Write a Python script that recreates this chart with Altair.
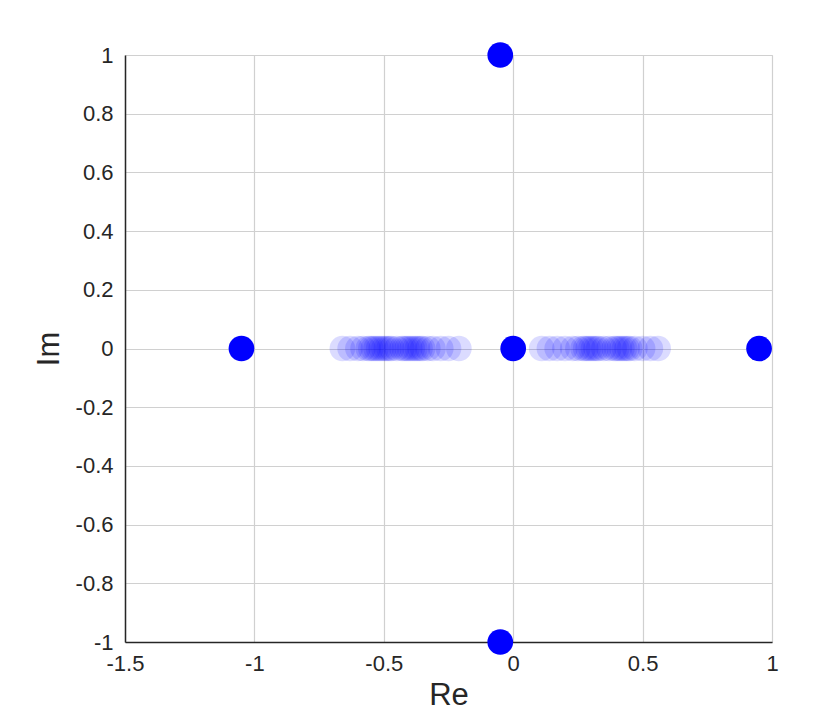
import altair as alt
import pandas as pd

# Solid (opaque) poles
solid_re = [-0.05, -0.05, -1.05, 0.0, 0.95]
solid_im = [1.0, -1.0, 0.0, 0.0, 0.0]

# Faint (transparent) points along the real axis
faint_re = [-0.66, -0.63, -0.60, -0.58, -0.56, -0.55, -0.54, -0.53, -0.52, -0.51,
            -0.50, -0.49, -0.48, -0.47, -0.45, -0.43, -0.42, -0.41, -0.40, -0.39,
            -0.38, -0.37, -0.36, -0.35, -0.33, -0.31, -0.28, -0.25, -0.21,
            0.11, 0.14, 0.17, 0.20, 0.23, 0.25, 0.27, 0.28, 0.29, 0.30, 0.31,
            0.32, 0.33, 0.35, 0.37, 0.39, 0.40, 0.41, 0.42, 0.43, 0.44, 0.45,
            0.47, 0.50, 0.53, 0.56]
faint_im = [0.0] * len(faint_re)

x_ticks = [-1.5, -1, -0.5, 0, 0.5, 1]
y_ticks = [-1, -0.8, -0.6, -0.4, -0.2, 0, 0.2, 0.4, 0.6, 0.8, 1]

solid = pd.DataFrame({"Re": solid_re, "Im": solid_im})
faint = pd.DataFrame({"Re": faint_re, "Im": faint_im})

FONT = "Liberation Sans"
LABEL = "datum.value < 0 ? '-' + format(-datum.value, '~g') : format(datum.value, '~g')"

common = dict(grid=True, ticks=False, labelExpr=LABEL,
              labelFontSize=22, titleFontSize=31, labelFont=FONT, titleFont=FONT,
              titleFontWeight="normal", labelColor="#262626", titleColor="#262626",
              domainColor="#262626", domainWidth=1.5, gridColor="#d0d0d0",
              gridWidth=1.2, labelFlush=False)

xenc = alt.X("Re:Q", title="Re",
             scale=alt.Scale(domain=[-1.5, 1], nice=False, zero=False),
             axis=alt.Axis(values=x_ticks, labelPadding=11, titlePadding=6, **common))
yenc = alt.Y("Im:Q", title="Im",
             scale=alt.Scale(domain=[-1, 1], nice=False, zero=False),
             axis=alt.Axis(values=y_ticks, labelPadding=12, titlePadding=10, **common))

faint_layer = alt.Chart(faint).mark_circle(size=660, color="#0000ff", opacity=0.14).encode(
    x=xenc, y=yenc)
solid_layer = alt.Chart(solid).mark_circle(size=660, color="#0000ff", opacity=1).encode(
    x="Re:Q", y="Im:Q")

chart = (faint_layer + solid_layer).properties(
    width=647, height=587,
    autosize=alt.AutoSizeParams(type="none"),
    padding={"left": 117, "top": 47, "right": 50, "bottom": 80},
).configure_view(stroke=None).configure(background="white")

chart.save("out.html", embed_options={"renderer": "svg", "actions": False})
